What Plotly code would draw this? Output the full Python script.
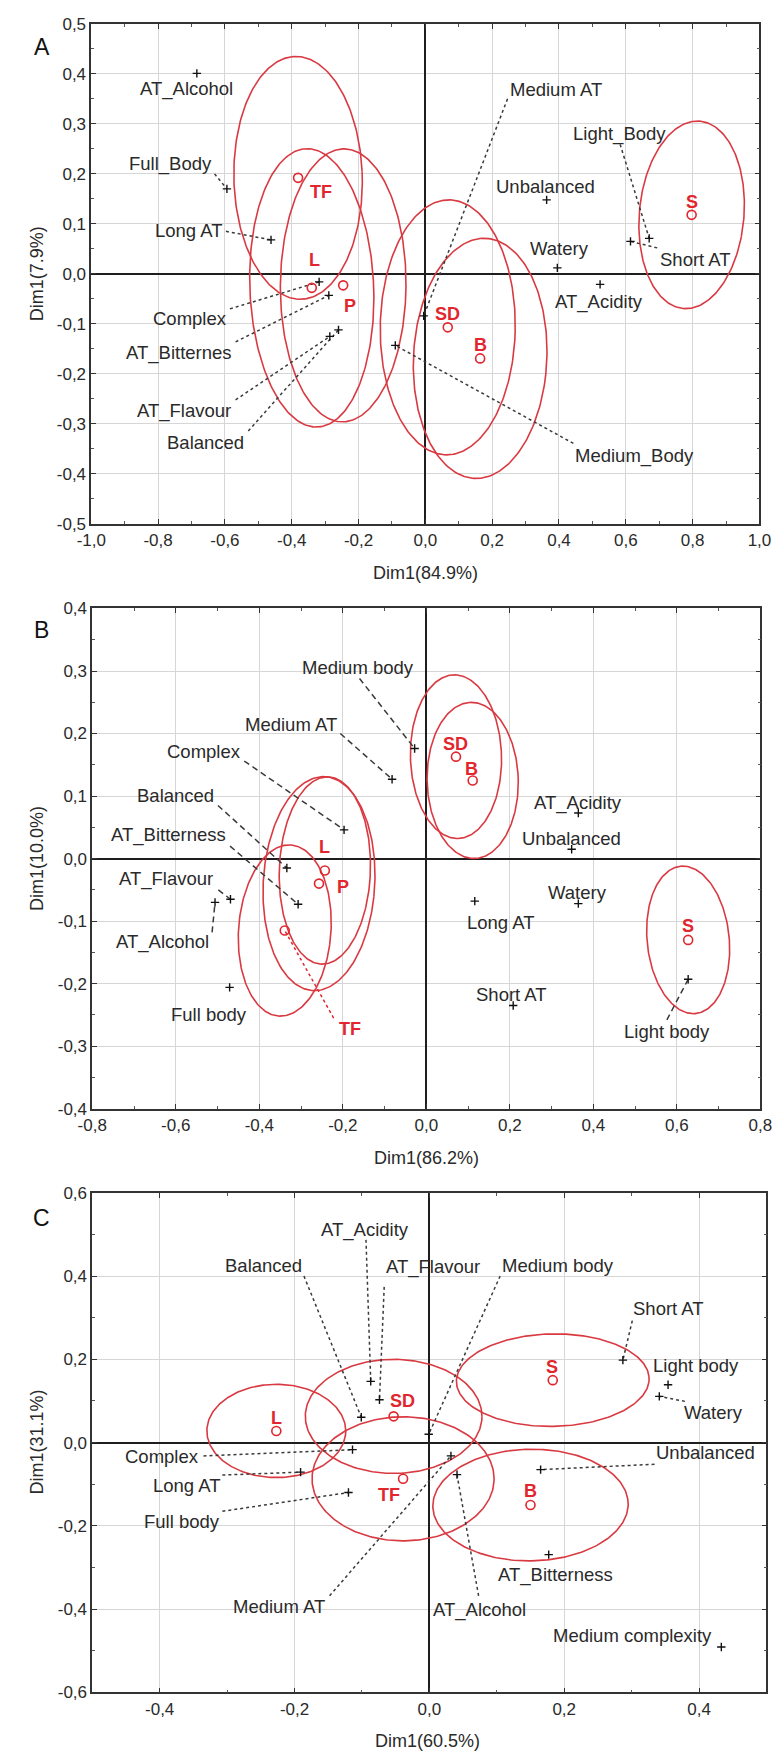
import numpy as np
import plotly.graph_objects as go

W, H = 784, 1764
RED = "#e1262e"
ELL_RED = "#d93a42"
INK = "#2a2a2a"
FONT = "Liberation Sans, Arial, sans-serif"

# ---------------- Panel A ----------------
A_attr = ["AT_Alcohol", "Full_Body", "Long AT", "Complex", "AT_Bitternes", "AT_Flavour",
          "Balanced", "Medium AT", "Medium_Body", "Unbalanced", "Watery", "AT_Acidity",
          "Light_Body", "Short AT"]
A_attr_x = [-0.684, -0.594, -0.462, -0.318, -0.289, -0.286, -0.260, -0.005, -0.090,
            0.363, 0.395, 0.523, 0.670, 0.614]
A_attr_y = [0.401, 0.170, 0.068, -0.016, -0.043, -0.125, -0.112, -0.084, -0.143,
            0.148, 0.012, -0.021, 0.071, 0.065]
A_prod = ["TF", "L", "P", "SD", "B", "S"]
A_prod_x = [-0.381, -0.340, -0.246, 0.067, 0.164, 0.797]
A_prod_y = [0.192, -0.028, -0.023, -0.107, -0.169, 0.118]
# confidence ellipses: semi-axes (x, y) and rotation in degrees
A_ell_a = [0.192, 0.185, 0.188, 0.202, 0.199, 0.155]
A_ell_b = [0.243, 0.279, 0.273, 0.255, 0.241, 0.190]
A_ell_rot = [4, 5, -1, -2, -9, -16]
A_xticks = [-1.0, -0.8, -0.6, -0.4, -0.2, 0.0, 0.2, 0.4, 0.6, 0.8, 1.0]
A_yticks = [-0.5, -0.4, -0.3, -0.2, -0.1, 0.0, 0.1, 0.2, 0.3, 0.4, 0.5]

# label placement and leader-line starts (None = no leader)
A_lab_x = [-0.714, -0.764, -0.707, -0.705, -0.736, -0.723, -0.658, 0.391, 0.626, 0.361, 0.402, 0.520, 0.580, 0.810]
A_lab_y = [0.370, 0.220, 0.087, -0.090, -0.159, -0.275, -0.337, 0.368, -0.364, 0.174, 0.050, -0.057, 0.279, 0.029]
A_lead_x = [None, -0.631, -0.597, -0.585, -0.568, -0.568, -0.530, 0.246, 0.443, None, None, None, 0.583, 0.694]
A_lead_y = [None, 0.200, 0.085, -0.070, -0.136, -0.252, -0.314, 0.350, -0.339, None, None, None, 0.259, 0.052]
A_plab_x = [-0.313, -0.332, -0.226, 0.067, 0.164, 0.797]
A_plab_y = [0.164, 0.027, -0.064, -0.080, -0.143, 0.144]

# ---------------- Panel B ----------------
B_attr = ["Medium body", "Medium AT", "Complex", "Balanced", "AT_Bitterness", "AT_Flavour",
          "AT_Alcohol", "Full body", "AT_Acidity", "Unbalanced", "Watery", "Long AT",
          "Short AT", "Light body"]
B_attr_x = [-0.028, -0.082, -0.197, -0.334, -0.307, -0.469, -0.506, -0.471, 0.364, 0.348,
            0.364, 0.116, 0.208, 0.627]
B_attr_y = [0.176, 0.127, 0.046, -0.015, -0.073, -0.065, -0.070, -0.206, 0.073, 0.015,
            -0.072, -0.068, -0.235, -0.193]
B_prod = ["L", "P", "TF", "SD", "B", "S"]
B_prod_x = [-0.243, -0.257, -0.339, 0.071, 0.111, 0.627]
B_prod_y = [-0.019, -0.040, -0.115, 0.163, 0.125, -0.130]
B_ell_a = [0.109, 0.133, 0.110, 0.109, 0.109, 0.097]
B_ell_b = [0.150, 0.172, 0.138, 0.131, 0.125, 0.120]
B_ell_rot = [-5, -9, -12, 5, 6, 18]
B_xticks = [-0.8, -0.6, -0.4, -0.2, 0.0, 0.2, 0.4, 0.6, 0.8]
B_yticks = [-0.4, -0.3, -0.2, -0.1, 0.0, 0.1, 0.2, 0.3, 0.4]

B_lab_x = [-0.164, -0.323, -0.532, -0.600, -0.617, -0.623, -0.631, -0.520, 0.362, 0.348, 0.362, 0.178, 0.205, 0.576]
B_lab_y = [0.305, 0.215, 0.171, 0.101, 0.038, -0.032, -0.134, -0.249, 0.089, 0.032, -0.055, -0.102, -0.218, -0.276]
B_lead_x = [-0.160, -0.206, -0.436, -0.499, -0.470, -0.498, -0.513, None, None, None, None, None, None, 0.576]
B_lead_y = [0.288, 0.200, 0.156, 0.085, 0.020, -0.050, -0.118, None, None, None, None, None, None, -0.258]
B_plab_x = [-0.244, -0.199, -0.183, 0.069, 0.108, 0.627]
B_plab_y = [0.018, -0.045, -0.272, 0.183, 0.144, -0.108]
B_plead_x = [None, None, -0.222, None, None, None]
B_plead_y = [None, None, -0.255, None, None, None]

# ---------------- Panel C ----------------
C_attr = ["Balanced", "AT_Acidity", "AT_Flavour", "Medium body", "Short AT", "Light body",
          "Watery", "Unbalanced", "Complex", "Long AT", "Full body", "Medium AT",
          "AT_Alcohol", "AT_Bitterness", "Medium complexity"]
C_attr_x = [-0.101, -0.087, -0.074, -0.001, 0.287, 0.354, 0.341, 0.165, -0.114, -0.191,
            -0.120, 0.032, 0.041, 0.177, 0.433]
C_attr_y = [0.061, 0.147, 0.103, 0.020, 0.198, 0.139, 0.111, -0.065, -0.017, -0.071,
            -0.120, -0.032, -0.077, -0.269, -0.491]
C_prod = ["L", "SD", "S", "TF", "B"]
C_prod_x = [-0.227, -0.053, 0.183, -0.039, 0.150]
C_prod_y = [0.028, 0.063, 0.150, -0.087, -0.150]
C_ell_a = [0.103, 0.131, 0.143, 0.135, 0.145]
C_ell_b = [0.112, 0.137, 0.111, 0.149, 0.134]
C_ell_rot = [0, 0, 3, 0, 6]
C_xticks = [-0.4, -0.2, 0.0, 0.2, 0.4]
C_yticks = [-0.6, -0.4, -0.2, 0.0, 0.2, 0.4, 0.6]

C_lab_x = [-0.246, -0.095, 0.005, 0.191, 0.355, 0.396, 0.422, 0.410, -0.397, -0.360, -0.367, -0.223, 0.074, 0.187, 0.302]
C_lab_y = [0.426, 0.511, 0.421, 0.426, 0.322, 0.186, 0.073, -0.024, -0.034, -0.103, -0.190, -0.394, -0.402, -0.318, -0.463]
C_lead_x = [-0.186, -0.094, -0.067, 0.105, 0.301, None, 0.379, 0.334, -0.335, -0.307, -0.307, -0.148, 0.073, None, None]
C_lead_y = [0.400, 0.487, 0.374, 0.400, 0.293, None, 0.099, -0.052, -0.032, -0.078, -0.165, -0.368, -0.368, None, None]
C_plab_x = [-0.227, -0.040, 0.182, -0.060, 0.150]
C_plab_y = [0.059, 0.099, 0.182, -0.125, -0.117]


def fmt(v):
    return f"{v:.1f}".replace(".", ",")


def ellipse(cx, cy, a, b, deg, n=240):
    t = np.linspace(0, 2 * np.pi, n)
    th = np.deg2rad(deg)
    x = cx + a * np.cos(t) * np.cos(th) - b * np.sin(t) * np.sin(th)
    y = cy + a * np.cos(t) * np.sin(th) + b * np.sin(t) * np.cos(th)
    return x, y


fig = go.Figure()
annotations = []


def add_panel(xa, ya, attr, ax, ay, lab_x, lab_y, lead_x, lead_y,
              prod, px, py, plab_x, plab_y, ea, eb, erot, dash,
              plead_x=None, plead_y=None):
    # confidence ellipses
    for cx, cy, a, b, r in zip(px, py, ea, eb, erot):
        ex, ey = ellipse(cx, cy, a, b, r)
        fig.add_trace(go.Scatter(x=ex, y=ey, mode="lines", xaxis=xa, yaxis=ya,
                                 line=dict(color=ELL_RED, width=1.6), hoverinfo="skip",
                                 showlegend=False))
    # leader lines
    lx, ly = [], []
    for x0, y0, x1, y1 in zip(lead_x, lead_y, ax, ay):
        if x0 is None:
            continue
        lx += [x0, x1, None]
        ly += [y0, y1, None]
    fig.add_trace(go.Scatter(x=lx, y=ly, mode="lines", xaxis=xa, yaxis=ya,
                             line=dict(color="#3a3a3a", width=1.5, dash=dash),
                             hoverinfo="skip", showlegend=False))
    if plead_x is not None:
        rx, ry = [], []
        for x0, y0, x1, y1 in zip(plead_x, plead_y, px, py):
            if x0 is None:
                continue
            rx += [x0, x1, None]
            ry += [y0, y1, None]
        fig.add_trace(go.Scatter(x=rx, y=ry, mode="lines", xaxis=xa, yaxis=ya,
                                 line=dict(color=RED, width=1.5, dash="dot"),
                                 hoverinfo="skip", showlegend=False))
    # attribute points
    fig.add_trace(go.Scatter(x=ax, y=ay, mode="markers", xaxis=xa, yaxis=ya,
                             marker=dict(symbol="cross-thin", size=6,
                                         line=dict(width=1.4, color="#111")),
                             text=attr, hoverinfo="text", showlegend=False))
    # product points
    fig.add_trace(go.Scatter(x=px, y=py, mode="markers", xaxis=xa, yaxis=ya,
                             marker=dict(symbol="circle-open", size=9,
                                         line=dict(width=1.6, color=RED), color=RED),
                             text=prod, hoverinfo="text", showlegend=False))
    for t, x, y in zip(attr, lab_x, lab_y):
        annotations.append(dict(x=x, y=y, xref=xa, yref=ya, text=t, showarrow=False,
                                xanchor="center", yanchor="middle",
                                font=dict(family=FONT, size=18.5, color=INK)))
    for t, x, y in zip(prod, plab_x, plab_y):
        annotations.append(dict(x=x, y=y, xref=xa, yref=ya, text=f"<b>{t}</b>", showarrow=False,
                                xanchor="center", yanchor="middle",
                                font=dict(family=FONT, size=18, color=RED)))


add_panel("x", "y", A_attr, A_attr_x, A_attr_y, A_lab_x, A_lab_y, A_lead_x, A_lead_y,
          A_prod, A_prod_x, A_prod_y, A_plab_x, A_plab_y, A_ell_a, A_ell_b, A_ell_rot, "dot")
add_panel("x2", "y2", B_attr, B_attr_x, B_attr_y, B_lab_x, B_lab_y, B_lead_x, B_lead_y,
          B_prod, B_prod_x, B_prod_y, B_plab_x, B_plab_y, B_ell_a, B_ell_b, B_ell_rot, "6px,4px",
          B_plead_x, B_plead_y)
add_panel("x3", "y3", C_attr, C_attr_x, C_attr_y, C_lab_x, C_lab_y, C_lead_x, C_lead_y,
          C_prod, C_prod_x, C_prod_y, C_plab_x, C_plab_y, C_ell_a, C_ell_b, C_ell_rot, "dot")


def axis(ticks, rng, minor_step, domain, anchor):
    return dict(range=rng, domain=domain, anchor=anchor,
                tickmode="array", tickvals=ticks, ticktext=[fmt(v) for v in ticks],
                showgrid=True, gridcolor="#d6d6d6", gridwidth=1,
                zeroline=True, zerolinecolor="#1e1e1e", zerolinewidth=2.2,
                showline=True, linecolor="#333", linewidth=1.6, mirror="ticks",
                ticks="inside", ticklen=5, tickcolor="#333", tickwidth=1.2,
                minor=dict(tickmode="linear", tick0=0, dtick=minor_step, ticks="inside",
                           ticklen=3, tickcolor="#555", showgrid=False),
                tickfont=dict(family=FONT, size=17, color=INK), fixedrange=True)


def xdom(l, r):
    return [l / W, r / W]


def ydom(t, b):
    return [1 - b / H, 1 - t / H]


layout = dict(
    width=W, height=H, margin=dict(l=0, r=0, t=0, b=0),
    paper_bgcolor="white", plot_bgcolor="white", showlegend=False,
    xaxis=axis(A_xticks, [-1.0, 1.0], 0.1, xdom(79, 771), "y"),
    yaxis=axis(A_yticks, [-0.5, 0.5], 0.05, ydom(15, 520.5), "x"),
    xaxis2=axis(B_xticks, [-0.8, 0.8], 0.1, xdom(80, 772), "y2"),
    yaxis2=axis(B_yticks, [-0.4, 0.4], 0.05, ydom(606, 1111.7), "x2"),
    xaxis3=axis(C_xticks, [-0.5, 0.5], 0.1, xdom(80, 778.3), "y3"),
    yaxis3=axis(C_yticks, [-0.6, 0.6], 0.1, ydom(1196.7, 1701.7), "x3"),
)

# axis titles and panel letters
titles = [
    ("Dim1(84.9%)", 425, 570, 0), ("Dim1(7.9%)", 23, 268, -90),
    ("Dim1(86.2%)", 426, 1162, 0), ("Dim1(10.0%)", 23, 859, -90),
    ("Dim1(60.5%)", 427, 1751, 0), ("Dim1(31.1%)", 23, 1449, -90),
]
for t, x, y, ang in titles:
    annotations.append(dict(x=x / W, y=1 - y / H, xref="paper", yref="paper", text=t,
                            showarrow=False, textangle=ang, xanchor="center", yanchor="middle",
                            font=dict(family=FONT, size=18, color=INK)))
for t, x, y in [("A", 27.5, 38), ("B", 27, 628), ("C", 27, 1222)]:
    annotations.append(dict(x=x / W, y=1 - y / H, xref="paper", yref="paper", text=t,
                            showarrow=False, xanchor="center", yanchor="middle",
                            font=dict(family=FONT, size=23, color="#111")))

layout["annotations"] = annotations
fig.update_layout(**layout)
fig.write_html("out.html", config=dict(displayModeBar=False))
